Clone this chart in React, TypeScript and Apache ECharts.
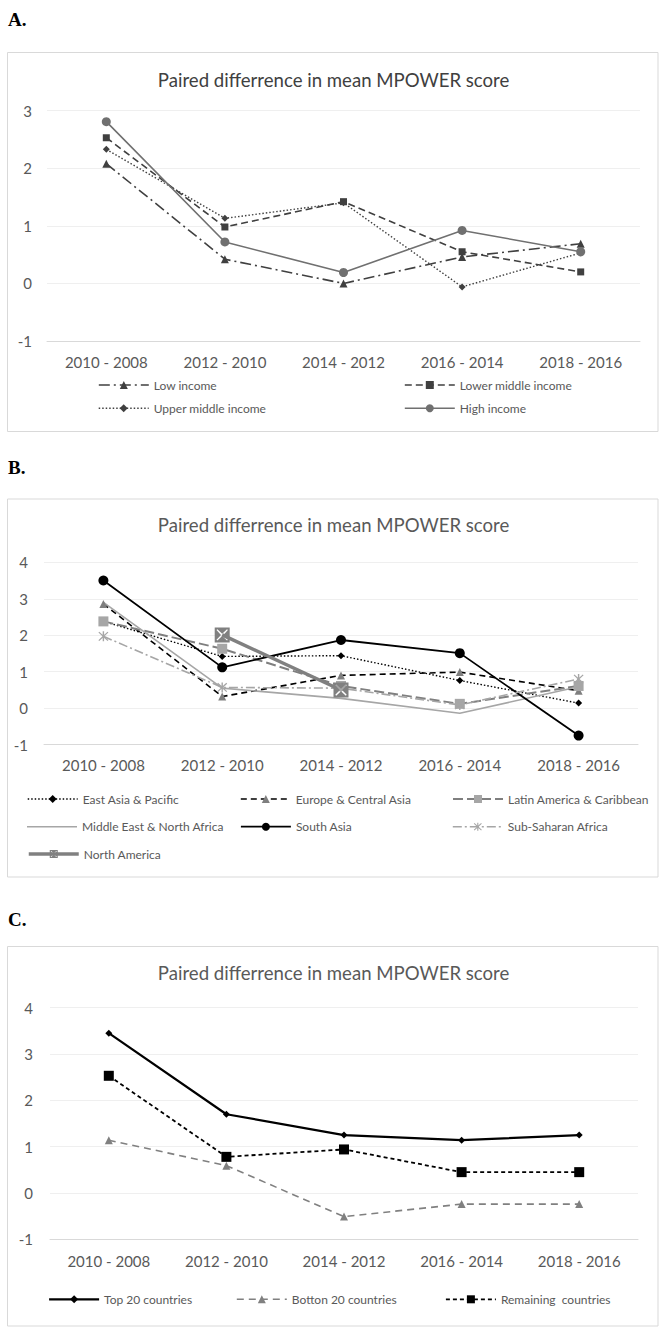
import React, { useEffect, useRef } from 'react';
import * as echarts from 'echarts';

// Category labels shared by all three panels
const categories = ['2010 - 2008', '2012 - 2010', '2014 - 2012', '2016 - 2014', '2018 - 2016'];

// Panel A: by income group
const lowIncome = [2.08, 0.42, 0.0, 0.46, 0.69];
const lowerMiddleIncome = [2.53, 0.98, 1.42, 0.55, 0.2];
const upperMiddleIncome = [2.33, 1.13, 1.4, -0.06, 0.53];
const highIncome = [2.81, 0.72, 0.19, 0.92, 0.55];

// Panel B: by region
const eastAsiaPacific = [2.38, 1.42, 1.44, 0.76, 0.14];
const europeCentralAsia = [2.86, 0.32, 0.9, 0.99, 0.48];
const latinAmericaCaribbean = [2.38, 1.63, 0.61, 0.12, 0.61];
const middleEastNorthAfrica = [2.9, 0.55, 0.27, -0.14, 0.59];
const southAsia = [3.5, 1.12, 1.87, 1.51, -0.75];
const subSaharanAfrica = [1.97, 0.57, 0.55, 0.09, 0.8];
const northAmerica = [null, 2.01, 0.5, null, null];

// Panel C: by country ranking
const top20 = [3.45, 1.7, 1.25, 1.14, 1.25];
const bottom20 = [1.14, 0.59, -0.51, -0.24, -0.24];
const remaining = [2.53, 0.78, 0.94, 0.45, 0.45];

// Axis ranges per panel
const yRangeA = [-1, 3];
const yRangeB = [-1, 4];
const yRangeC = [-1, 4];

const chartTitle = 'Paired differrence in mean MPOWER score';

const FONT = 'Lato, "Open Sans", sans-serif';
const LABEL_GRAY = '#595959';

const ASTERISK =
  'path://M1.2,0.4L5,4.1L8.8,0.4L9.6,1.2L5.9,5L9.6,8.8L8.8,9.6L5,5.9L1.2,9.6L0.4,8.8L4.1,5L0.4,1.2Z M4.35,0L5.65,0L5.65,10L4.35,10Z';
const BOX_X =
  'path://M0,0L10,0L10,10L0,10Z M1.2,1.8L4.2,5L1.2,8.2L1.8,8.8L5,5.8L8.2,8.8L8.8,8.2L5.8,5L8.8,1.8L8.2,1.2L5,4.2L1.8,1.2Z';

type Style = {
  color: string;
  width: number;
  dash?: number[] | 'solid';
  symbol: string;
  symbolSize: number;
  markerColor?: string;
};

// Series definitions: name, values, panel index, style
const seriesDefs: [string, (number | null)[], number, Style][] = [
  ['Low income', lowIncome, 0, { color: '#404040', width: 1.6, dash: [11, 4, 2, 4], symbol: 'triangle', symbolSize: 8 }],
  ['Lower middle income', lowerMiddleIncome, 0, { color: '#404040', width: 1.6, dash: [7, 4], symbol: 'rect', symbolSize: 7 }],
  ['Upper middle income', upperMiddleIncome, 0, { color: '#404040', width: 1.4, dash: [1.5, 2], symbol: 'diamond', symbolSize: 7 }],
  ['High income', highIncome, 0, { color: '#707070', width: 1.6, symbol: 'circle', symbolSize: 9 }],

  ['East Asia & Pacific', eastAsiaPacific, 1, { color: '#000000', width: 1.4, dash: [1.5, 2], symbol: 'diamond', symbolSize: 7 }],
  ['Europe & Central Asia', europeCentralAsia, 1, { color: '#000000', width: 1.6, dash: [6, 4], symbol: 'triangle', symbolSize: 8, markerColor: '#7f7f7f' }],
  ['Latin America & Caribbean', latinAmericaCaribbean, 1, { color: '#7f7f7f', width: 2, dash: [10, 4], symbol: 'rect', symbolSize: 10, markerColor: '#a6a6a6' }],
  ['Middle East & North Africa', middleEastNorthAfrica, 1, { color: '#a6a6a6', width: 1.6, symbol: 'none', symbolSize: 0 }],
  ['South Asia', southAsia, 1, { color: '#000000', width: 1.8, symbol: 'circle', symbolSize: 10 }],
  ['Sub-Saharan Africa', subSaharanAfrica, 1, { color: '#a6a6a6', width: 1.6, dash: [9, 3, 2, 3], symbol: ASTERISK, symbolSize: 10 }],
  ['North America', northAmerica, 1, { color: '#808080', width: 3.5, symbol: BOX_X, symbolSize: 15 }],

  ['Top 20 countries', top20, 2, { color: '#000000', width: 2.2, symbol: 'diamond', symbolSize: 7 }],
  ['Botton 20 countries', bottom20, 2, { color: '#808080', width: 1.6, dash: [7, 5], symbol: 'triangle', symbolSize: 8 }],
  ['Remaining  countries', remaining, 2, { color: '#000000', width: 1.8, dash: [4, 3], symbol: 'rect', symbolSize: 10 }],
];

function lineSeries(name: string, data: (number | null)[], idx: number, s: Style) {
  return {
    type: 'line',
    name,
    data: data.map((v) => (v === null ? '-' : v)),
    xAxisIndex: idx,
    yAxisIndex: idx,
    symbol: s.symbol,
    symbolSize: s.symbolSize,
    showSymbol: s.symbol !== 'none',
    showAllSymbol: true,
    connectNulls: false,
    lineStyle: { color: s.color, width: s.width, type: s.dash ?? 'solid', cap: 'butt' },
    itemStyle: { color: s.markerColor ?? s.color, borderWidth: 0 },
    emphasis: { disabled: true },
  };
}

// Panel layout (pixels)
const panels = [
  { frame: [7.5, 52.5, 650.5, 379], letter: 'A.', letterY: 19, titleY: 80, titleColor: '#404040',
    grid: { left: 47, top: 110.7, width: 593, height: 230.3 }, yRange: yRangeA, yMargin: 15, xMargin: 13 },
  { frame: [7.5, 499, 650.5, 378], letter: 'B.', letterY: 467, titleY: 525, titleColor: LABEL_GRAY,
    grid: { left: 44, top: 562.3, width: 594, height: 182.4 }, yRange: yRangeB, yMargin: 16, xMargin: 13 },
  { frame: [7.5, 946.5, 650.5, 379.5], letter: 'C.', letterY: 919, titleY: 973, titleColor: LABEL_GRAY,
    grid: { left: 50, top: 1007.7, width: 588, height: 231.6 }, yRange: yRangeC, yMargin: 17, xMargin: 14 },
];

// Legend placement: [series name, icon left, row centre y]
const legendPlacement: [string, number, number][] = [
  ['Low income', 98, 385],
  ['Lower middle income', 404, 385],
  ['Upper middle income', 98, 408.3],
  ['High income', 404, 408.3],
  ['East Asia & Pacific', 27, 799],
  ['Europe & Central Asia', 240, 799],
  ['Latin America & Caribbean', 452, 799],
  ['Middle East & North Africa', 27, 826.7],
  ['South Asia', 240, 826.7],
  ['Sub-Saharan Africa', 452, 826.7],
  ['North America', 27, 854],
  ['Top 20 countries', 48, 1299.3],
  ['Botton 20 countries', 236, 1299.3],
  ['Remaining  countries', 445, 1299.3],
];

function buildOption() {
  const series = seriesDefs.map(([name, data, idx, s]) => lineSeries(name, data, idx, s));

  const legend = legendPlacement.map(([name, left, y]) => {
    const def = seriesDefs.find((d) => d[0] === name)!;
    const style = def[3];
    const lineOnly = style.symbol === 'none';
    return {
      data: lineOnly ? [{ name, icon: 'rect' }] : [name],
      left,
      top: y - 7,
      padding: 0,
      itemWidth: 50,
      itemHeight: lineOnly ? style.width : 10,
      itemGap: 0,
      selectedMode: false,
      lineStyle: { width: style.width },
      textStyle: { fontFamily: FONT, fontSize: 12, color: LABEL_GRAY, lineHeight: 14, padding: [0, 0, 0, 0] },
    };
  });

  const graphic: any[] = [];
  panels.forEach((p) => {
    const [x, y, w, h] = p.frame;
    graphic.push({
      type: 'rect',
      shape: { x, y, width: w, height: h },
      style: { fill: 'none', stroke: '#d9d9d9', lineWidth: 1 },
      silent: true,
    });
    graphic.push({
      type: 'text',
      x: 8,
      y: p.letterY,
      style: {
        text: p.letter,
        fontFamily: '"Liberation Serif", "Times New Roman", serif',
        fontWeight: 'bold',
        fontSize: 19,
        fill: '#000000',
        verticalAlign: 'middle',
      },
    });
    graphic.push({
      type: 'text',
      x: 333.6,
      y: p.titleY,
      style: {
        text: chartTitle,
        fontFamily: FONT,
        fontSize: 18.6,
        fill: p.titleColor,
        align: 'center',
        verticalAlign: 'middle',
      },
    });
  });

  return {
    animation: false,
    backgroundColor: '#ffffff',
    grid: panels.map((p) => ({ ...p.grid, outerBoundsMode: 'none', containLabel: false })),
    xAxis: panels.map((p, i) => ({
      type: 'category',
      gridIndex: i,
      data: categories,
      boundaryGap: true,
      axisLine: { show: true, onZero: false, lineStyle: { color: '#d9d9d9', width: 1 } },
      axisTick: { show: false },
      splitLine: { show: false },
      axisLabel: { interval: 0, margin: p.xMargin, fontFamily: FONT, fontSize: 15, color: LABEL_GRAY },
    })),
    yAxis: panels.map((p, i) => ({
      type: 'value',
      gridIndex: i,
      min: p.yRange[0],
      max: p.yRange[1],
      interval: 1,
      axisLine: { show: false },
      axisTick: { show: false },
      splitLine: { show: true, lineStyle: { color: '#efefef', width: 1 } },
      axisLabel: { margin: p.yMargin, fontFamily: FONT, fontSize: 15, color: LABEL_GRAY },
    })),
    legend,
    graphic,
    series,
  };
}

export default function App() {
  const ref = useRef<HTMLDivElement>(null);
  useEffect(() => {
    if (!ref.current) return;
    const chart = echarts.init(ref.current, null, { renderer: 'svg' });
    chart.setOption(buildOption() as any);
    return () => chart.dispose();
  }, []);
  return (
    <div
      ref={ref}
      style={{ position: 'absolute', left: 0, top: 0, width: 661, height: 1334, background: '#ffffff' }}
    />
  );
}
